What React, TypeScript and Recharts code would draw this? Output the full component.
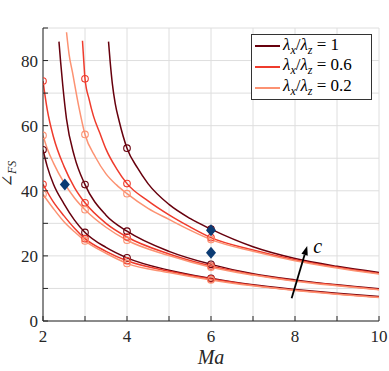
import React from "react";
import {
  ComposedChart,
  Line,
  Scatter,
  XAxis,
  YAxis,
  CartesianGrid,
  ReferenceLine,
} from "recharts";

type Pt = [number, number];

const maTicks = [2, 3, 4, 5, 6, 7, 8, 9, 10];
const fsTicks = [0, 10, 20, 30, 40, 50, 60, 70, 80, 90];
const markerMa = [2, 3, 4, 6];
const ratioLabels = ["1", "0.6", "0.2"];

// lowest c
const darkA: Pt[] = [
  [2, 52.6], [2.1, 47.5], [2.25, 42], [2.5, 36], [2.75, 31], [3, 27.2], [3.5, 22.6],
  [4, 19.4], [5, 15.6], [6, 13.1], [7, 11.1], [8, 9.7], [9, 8.5], [10, 7.5],
];
const redA: Pt[] = [
  [2, 42.0], [2.25, 36.5], [2.5, 32.3], [2.75, 28.5], [3, 25.3], [3.5, 21.4],
  [4, 18.5], [5, 15.3], [6, 12.9], [7, 11.0], [8, 9.5], [9, 8.3], [10, 7.3],
];
const salmonA: Pt[] = [
  [2, 38.9], [2.25, 34.5], [2.5, 30.5], [2.75, 27.4], [3, 24.6], [3.5, 20.8],
  [4, 17.7], [5, 14.9], [6, 12.6], [7, 10.8], [8, 9.4], [9, 8.2], [10, 7.2],
];
// middle c
const darkB: Pt[] = [
  [2.38, 85.8], [2.42, 79.5], [2.47, 72.5], [2.56, 62], [2.75, 50.5], [3, 41.9],
  [3.5, 32.5], [4, 27.6], [5, 21.4], [6, 17.4], [7, 14.5], [8, 12.6], [9, 11.1], [10, 9.9],
];
const redB: Pt[] = [
  [2, 73.7], [2.1, 65], [2.25, 56.5], [2.5, 47.5], [2.75, 41], [3, 36.3], [3.5, 30],
  [4, 25.8], [5, 20.6], [6, 16.9], [7, 14.3], [8, 12.4], [9, 11.0], [10, 9.7],
];
const salmonB: Pt[] = [
  [2, 57.0], [2.1, 53], [2.25, 48.5], [2.5, 42.5], [2.75, 37.8], [3, 34.2], [3.5, 28.8],
  [4, 24.8], [5, 20.1], [6, 16.5], [7, 14.1], [8, 12.2], [9, 10.8], [10, 9.6],
];
// highest c
const darkC: Pt[] = [
  [3.56, 85.8], [3.6, 79.5], [3.65, 73], [3.72, 66.8], [3.81, 61.6], [4, 53.1],
  [4.25, 47], [4.5, 42.2], [5, 35.8], [5.5, 31.5], [6, 28.2], [7, 22.8], [8, 19.2],
  [9, 16.8], [10, 14.9],
];
const redC: Pt[] = [
  [2.94, 86.1], [2.97, 80], [3, 74.4], [3.1, 68], [3.2, 63], [3.36, 57.5], [3.5, 52.8],
  [3.75, 46.8], [4, 42.2], [4.5, 36.9], [5, 32.6], [5.5, 28.9], [6, 25.6], [7, 21.8],
  [8, 18.8], [9, 16.5], [10, 14.6],
];
const salmonC: Pt[] = [
  [2.56, 88.7], [2.62, 82], [2.7, 76.5], [2.85, 66], [3, 57.3], [3.25, 50.3], [3.5, 45.2],
  [3.75, 41.8], [4, 39.1], [4.5, 34.6], [5, 31.2], [5.5, 27.9], [6, 25.0], [7, 21.4],
  [8, 18.5], [9, 16.3], [10, 14.4],
];

const diamonds: Pt[] = [[2.52, 41.9], [6, 27.9], [6, 21.0]];
const arrowTail: Pt = [7.92, 7.0];
const arrowHead: Pt = [8.29, 23.0];

const DARK = "#67000d";
const RED = "#ef3b2c";
const SALMON = "#fc9272";
const NAVY = "#0b3b73";
const AXIS = "#262626";
const FONT = "Liberation Serif, DejaVu Serif, serif";

const curves = [
  { id: "darkA", pts: darkA, color: DARK },
  { id: "redA", pts: redA, color: RED },
  { id: "salmonA", pts: salmonA, color: SALMON },
  { id: "darkB", pts: darkB, color: DARK },
  { id: "redB", pts: redB, color: RED },
  { id: "salmonB", pts: salmonB, color: SALMON },
  { id: "darkC", pts: darkC, color: DARK },
  { id: "redC", pts: redC, color: RED },
  { id: "salmonC", pts: salmonC, color: SALMON },
];

const toRows = (pts: Pt[]) => pts.map(([ma, v]) => ({ ma, v }));

const BottomTick = ({ x, y, payload }: any) => (
  <g>
    <line x1={x} y1={y} x2={x} y2={y - 5} stroke={AXIS} />
    {payload.value % 2 === 0 && (
      <text x={x} y={y + 21} textAnchor="middle" fontSize={17} fontFamily={FONT} fill={AXIS}>
        {payload.value}
      </text>
    )}
  </g>
);
const TopTick = ({ x, y }: any) => <line x1={x} y1={y} x2={x} y2={y + 5} stroke={AXIS} />;
const LeftTick = ({ x, y, payload }: any) => (
  <g>
    <line x1={x} y1={y} x2={x + 5} y2={y} stroke={AXIS} />
    {payload.value % 20 === 0 && payload.value <= 80 && (
      <text x={x - 5} y={y + 6} textAnchor="end" fontSize={17} fontFamily={FONT} fill={AXIS}>
        {payload.value}
      </text>
    )}
  </g>
);
const RightTick = ({ x, y }: any) => <line x1={x} y1={y} x2={x - 5} y2={y} stroke={AXIS} />;

const makeCircle = (color: string) => (p: any) =>
  <circle cx={p.cx} cy={p.cy} r={3.3} fill="none" stroke={color} strokeWidth={1.1} />;

const DiamondShape = (p: any) => (
  <polygon
    points={`${p.cx},${p.cy - 6} ${p.cx + 5},${p.cy} ${p.cx},${p.cy + 6} ${p.cx - 5},${p.cy}`}
    fill={NAVY}
  />
);

const ArrowShape = (p: any) => {
  const { x1, y1, x2, y2 } = p;
  const a = Math.atan2(y2 - y1, x2 - x1);
  const L = 9;
  const W = 3.3;
  const bx = x2 - L * Math.cos(a);
  const by = y2 - L * Math.sin(a);
  const px = -Math.sin(a) * W;
  const py = Math.cos(a) * W;
  return (
    <g>
      <line x1={x1} y1={y1} x2={bx} y2={by} stroke="#000" strokeWidth={1.8} />
      <polygon points={`${x2},${y2} ${bx + px},${by + py} ${bx - px},${by - py}`} fill="#000" />
      <text x={x2 + 6} y={y2 + 7} fontStyle="italic" fontSize={20} fontFamily={FONT} fill="#000">
        c
      </text>
    </g>
  );
};

const legendColors = [DARK, RED, SALMON];

export default function App() {
  return (
    <div style={{ position: "absolute", left: 0, top: 0, width: 389, height: 371, background: "#fff" }}>
      <ComposedChart width={389} height={371} margin={{ top: 28, right: 10, bottom: 0, left: 0 }}>
        <CartesianGrid stroke="#dedede" strokeWidth={1} />
        <XAxis
          dataKey="ma"
          type="number"
          domain={[2, 10]}
          ticks={maTicks}
          interval={0}
          allowDataOverflow
          height={50}
          tickSize={0}
          tickMargin={0}
          tickLine={false}
          axisLine={{ stroke: AXIS }}
          tick={<BottomTick />}
        />
        <XAxis
          xAxisId="top"
          orientation="top"
          dataKey="ma"
          type="number"
          domain={[2, 10]}
          ticks={maTicks}
          interval={0}
          allowDataOverflow
          height={0}
          tickSize={0}
          tickMargin={0}
          tickLine={false}
          axisLine={{ stroke: AXIS }}
          tick={<TopTick />}
        />
        <YAxis
          dataKey="v"
          type="number"
          domain={[0, 90]}
          ticks={fsTicks}
          interval={0}
          allowDataOverflow
          width={43}
          tickSize={0}
          tickMargin={0}
          tickLine={false}
          axisLine={{ stroke: AXIS }}
          tick={<LeftTick />}
        />
        <YAxis
          yAxisId="right"
          orientation="right"
          type="number"
          domain={[0, 90]}
          ticks={fsTicks}
          interval={0}
          allowDataOverflow
          width={0}
          tickSize={0}
          tickMargin={0}
          tickLine={false}
          axisLine={{ stroke: AXIS }}
          tick={<RightTick />}
        />
        {curves.map((c) => (
          <Line
            key={c.id}
            data={toRows(c.pts)}
            dataKey="v"
            type="monotone"
            stroke={c.color}
            strokeWidth={1.5}
            dot={false}
            activeDot={false}
            isAnimationActive={false}
          />
        ))}
        {curves.map((c) => (
          <Scatter
            key={c.id + "-m"}
            data={toRows(c.pts.filter(([ma]) => markerMa.includes(ma)))}
            dataKey="v"
            shape={makeCircle(c.color)}
            isAnimationActive={false}
          />
        ))}
        <Scatter data={toRows(diamonds)} dataKey="v" shape={DiamondShape} isAnimationActive={false} />
        <ReferenceLine
          segment={[
            { x: arrowTail[0], y: arrowTail[1] },
            { x: arrowHead[0], y: arrowHead[1] },
          ]}
          shape={ArrowShape}
        />
      </ComposedChart>
      <svg
        width={389}
        height={371}
        style={{ position: "absolute", left: 0, top: 0, pointerEvents: "none" }}
      >
        <text x={211} y={364} textAnchor="middle" fontSize={20} fontStyle="italic" fontFamily={FONT} fill={AXIS}>
          Ma
        </text>
        <text
          transform="translate(13,174) rotate(-90)"
          textAnchor="middle"
          fontSize={16}
          fontFamily={FONT}
          fill={AXIS}
        >
          ∠
          <tspan fontSize={12} fontStyle="italic" dy={3}>
            FS
          </tspan>
        </text>
      </svg>
      <div
        style={{
          position: "absolute",
          left: 251,
          top: 34,
          width: 119,
          height: 63,
          border: "1px solid #333",
          background: "#fff",
          fontFamily: FONT,
          fontSize: 17,
          color: "#000",
          paddingTop: 1,
          boxSizing: "content-box",
        }}
      >
        {ratioLabels.map((r, i) => (
          <div key={r} style={{ display: "flex", alignItems: "center", height: 20.7, whiteSpace: "nowrap" }}>
            <span
              style={{ display: "inline-block", width: 25, height: 0, borderTop: `2px solid ${legendColors[i]}`, marginLeft: 3, marginRight: 3 }}
            />
            <span>
              <i>λ</i>
              <sub style={{ fontSize: 12, fontStyle: "italic" }}>x</sub>/<i>λ</i>
              <sub style={{ fontSize: 12, fontStyle: "italic" }}>z</sub>
              {" = "}
              {r}
            </span>
          </div>
        ))}
      </div>
    </div>
  );
}
